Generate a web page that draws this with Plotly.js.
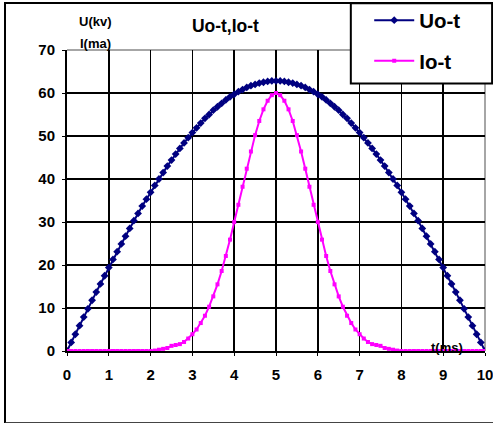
<!DOCTYPE html>
<html>
<head>
<meta charset="utf-8">
<script src="https://cdn.plot.ly/plotly-3.0.1.min.js"></script>
<style>
html,body{margin:0;padding:0;background:#fff;overflow:hidden;}
#wrap{position:relative;width:493px;height:423px;}
#chart{position:absolute;left:0;top:0;width:493px;height:423px;}
#frame{position:absolute;left:4px;top:2px;width:600px;height:418px;border-left:2px solid #000;border-top:2px solid #000;border-bottom:2px solid #444;pointer-events:none;}
</style>
</head>
<body>
<div id="wrap"><div id="chart"></div><div id="frame"></div></div>
<script>
// time (ms)
var tVals = [0,0.1,0.2,0.3,0.4,0.5,0.6,0.7,0.8,0.9,1,1.1,1.2,1.3,1.4,1.5,1.6,1.7,1.8,1.9,
2,2.1,2.2,2.3,2.4,2.5,2.6,2.7,2.8,2.9,3,3.1,3.2,3.3,3.4,3.5,3.6,3.7,3.8,3.9,
4,4.1,4.2,4.3,4.4,4.5,4.6,4.7,4.8,4.9,5,5.1,5.2,5.3,5.4,5.5,5.6,5.7,5.8,5.9,
6,6.1,6.2,6.3,6.4,6.5,6.6,6.7,6.8,6.9,7,7.1,7.2,7.3,7.4,7.5,7.6,7.7,7.8,7.9,
8,8.1,8.2,8.3,8.4,8.5,8.6,8.7,8.8,8.9,9,9.1,9.2,9.3,9.4,9.5,9.6,9.7,9.8,9.9,10];
// U (kV)
var uoVals = [0,2.0,3.9,5.9,7.9,9.8,11.8,13.7,15.6,17.5,19.4,21.3,23.1,24.9,26.7,28.5,30.3,32.0,33.7,35.3,
36.9,38.5,40.0,41.5,43.0,44.4,45.8,47.1,48.4,49.6,50.8,51.9,53.0,54.1,55.0,56.0,56.8,57.6,58.4,59.1,
59.7,60.3,60.8,61.3,61.7,62.0,62.3,62.5,62.7,62.8,62.8,62.8,62.7,62.5,62.3,62.0,61.7,61.3,60.8,60.3,
59.7,59.1,58.4,57.6,56.8,56.0,55.0,54.1,53.0,51.9,50.8,49.6,48.4,47.1,45.8,44.4,43.0,41.5,40.0,38.5,
36.9,35.3,33.7,32.0,30.3,28.5,26.7,24.9,23.1,21.3,19.4,17.5,15.6,13.7,11.8,9.8,7.9,5.9,3.9,2.0,0];
// I (mA)
var ioVals = [0,0,0,0,0,0,0,0,0,0,0,0,0,0,0,0,0,0,0,0,
0,0.1,0.3,0.5,0.7,1.2,1.4,1.6,2.1,2.9,3.9,5.0,6.5,8.2,10.3,12.7,15.5,18.6,22.1,25.9,
30.0,34.0,38.2,42.4,46.4,50.2,53.5,56.2,58.2,59.5,60.0,59.5,58.2,56.2,53.5,50.2,46.4,42.4,38.2,34.0,
30.0,25.9,22.1,18.6,15.5,12.7,10.3,8.2,6.5,5.0,3.9,2.9,2.1,1.6,1.4,1.2,0.7,0.5,0.3,0.1,
0,0,0,0,0,0,0,0,0,0,0,0,0,0,0,0,0,0,0,0,0];
var seriesNames = ['Uo-t','Io-t'];
var xTicks = [0,1,2,3,4,5,6,7,8,9,10];
var yTicks = [0,10,20,30,40,50,60,70];

var F = 'Arial, "Liberation Sans", sans-serif';
var bold = function(v){ return '<b>' + v + '</b>'; };
var data = [
  {x:tVals, y:uoVals, name:bold(seriesNames[0]), type:'scatter', mode:'lines+markers', legendgroup:'a',
   line:{color:'#000080', width:2}, marker:{color:'#000080', symbol:'diamond', size:6}},
  {x:tVals, y:ioVals, name:bold(seriesNames[1]), type:'scatter', mode:'lines+markers', legendgroup:'b',
   line:{color:'#FF00FF', width:2}, marker:{color:'#FF00FF', symbol:'square', size:4}}
];
var layout = {
  width:493, height:423,
  margin:{l:67, r:8, t:50, b:72, pad:0, autoexpand:false},
  paper_bgcolor:'#fff', plot_bgcolor:'#fff',
  font:{family:F, color:'#000', size:14},
  title:{text:'<b>Uo-t,Io-t</b>', x:0.379, xref:'paper', xanchor:'center', y:0.938, yanchor:'middle', font:{size:17.5, family:F, color:'#000'}},
  xaxis:{range:[0,10], tickvals:xTicks, ticktext:xTicks.map(bold), showgrid:true, gridcolor:'#000', gridwidth:1.5,
    zeroline:false, showline:true, linecolor:'#000', linewidth:2, ticks:'outside', ticklen:3, tickcolor:'#000',
    tickfont:{family:F, size:15, color:'#000'}, ticklabelstandoff:6, ticklabeloverflow:'allow', fixedrange:true},
  yaxis:{range:[0,70], tickvals:yTicks, ticktext:yTicks.map(bold), showgrid:true, gridcolor:'#000', gridwidth:1.5,
    zeroline:false, showline:true, linecolor:'#000', linewidth:2, ticks:'outside', ticklen:3, tickcolor:'#000',
    tickfont:{family:F, size:15, color:'#000'}, ticklabelstandoff:4, ticklabeloverflow:'allow', fixedrange:true},
  showlegend:true,
  legend:{x:0.723, xanchor:'left', y:1.165, yanchor:'top', bgcolor:'rgba(0,0,0,0)', borderwidth:0, itemwidth:40,
    font:{family:F, size:20.5, color:'#000'}, tracegroupgap:11},
  shapes:[
    {type:'line', xref:'paper', yref:'paper', x0:0, x1:1, y0:1, y1:1, line:{color:'#888', width:1.5}, layer:'between'},
    {type:'line', xref:'paper', yref:'paper', x0:1, x1:1, y0:0, y1:1, line:{color:'#888', width:1.5}, layer:'between'},
    {type:'rect', xref:'paper', yref:'paper', x0:0.679, x1:1.017, y0:0.889, y1:1.155, fillcolor:'#fff', line:{color:'#000', width:2}, layer:'above'}
  ],
  annotations:[
    {text:'<b>U(kv)</b>', xref:'paper', yref:'paper', x:0.069, y:1.095, showarrow:false, xanchor:'center', yanchor:'middle', font:{family:F, size:13, color:'#000'}},
    {text:'<b>I(ma)</b>', xref:'paper', yref:'paper', x:0.068, y:1.022, showarrow:false, xanchor:'center', yanchor:'middle', font:{family:F, size:13, color:'#000'}},
    {text:'<b>t(ms)</b>', xref:'paper', yref:'paper', x:0.909, y:0.013, showarrow:false, xanchor:'center', yanchor:'middle', font:{family:F, size:13, color:'#000'}}
  ]
};
Plotly.newPlot('chart', data, layout, {staticPlot:true, displayModeBar:false});
</script>
</body>
</html>
